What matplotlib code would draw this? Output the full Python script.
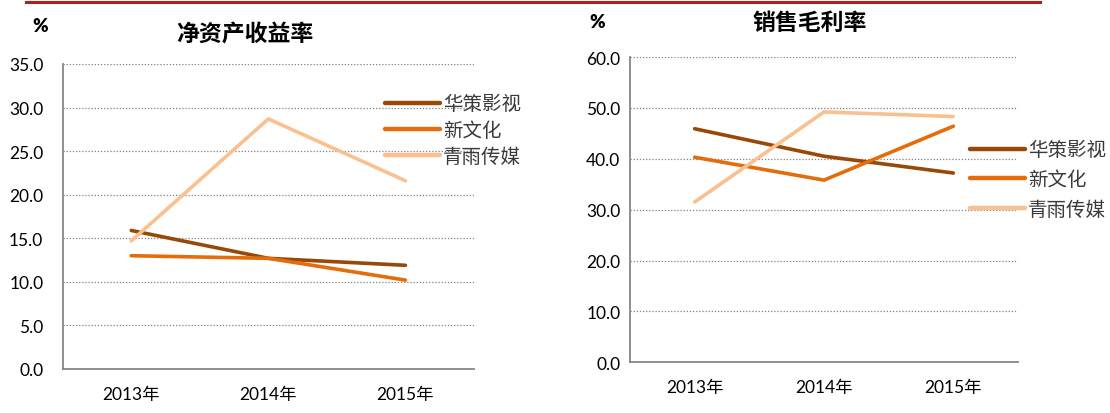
import matplotlib
matplotlib.use("Agg")

import matplotlib.pyplot as plt
from matplotlib.lines import Line2D

plt.rcParams["font.family"] = ["Lato", "Noto Sans CJK SC", "DejaVu Sans"]

years = ["2013年", "2014年", "2015年"]
companies = ["华策影视", "新文化", "青雨传媒"]
colors = ["#984807", "#E46C0A", "#FAC090"]

roe_huace = [15.9, 12.7, 11.9]
roe_xinwenhua = [13.0, 12.7, 10.2]
roe_qingyu = [14.7, 28.7, 21.6]

gm_huace = [45.9, 40.5, 37.2]
gm_xinwenhua = [40.3, 35.8, 46.4]
gm_qingyu = [31.5, 49.2, 48.3]

W, H = 1110, 414
fig = plt.figure(figsize=(W / 100, H / 100), dpi=100)


def px(x, y):
    return x / W, 1 - y / H


def setup_axes(ax, ymax, step, ypad):
    ax.set_xlim(-0.5, 2.5)
    ax.set_ylim(0, ymax)
    ticks = [i * step for i in range(int(ymax / step) + 1)]
    ax.set_yticks(ticks)
    ax.set_yticklabels([f"{t:.1f}" for t in ticks])
    ax.set_xticks(range(len(years)))
    ax.set_xticklabels(years)
    for t in ticks[1:]:
        ax.axhline(t, color="#808080", linestyle=(0, (1, 1.5)), linewidth=0.9, zorder=0)
    for side in ["top", "right"]:
        ax.spines[side].set_visible(False)
    for side in ["left", "bottom"]:
        ax.spines[side].set_color("#868686")
        ax.spines[side].set_linewidth(1.3)
    ax.tick_params(axis="both", length=0, labelsize=12.5, colors="#000000")
    ax.tick_params(axis="y", pad=ypad)
    ax.tick_params(axis="x", pad=12)


def add_legend(ax, anchor, spacing):
    leg = ax.legend(loc="upper left", bbox_to_anchor=px(*anchor), bbox_transform=fig.transFigure,
                    frameon=False, fontsize=14, handlelength=2.85, handletextpad=0.15,
                    labelspacing=spacing, borderaxespad=0, borderpad=0)
    for line in leg.get_lines():
        line.set_linewidth(3.2)
    for text in leg.get_texts():
        text.set_color("#3a3a3a")


# left chart: ROE
ax1 = fig.add_axes([62.7 / W, 1 - 370 / H, 411.3 / W, 305 / H])
setup_axes(ax1, 35, 5, 14)
for vals, name, c in zip([roe_huace, roe_xinwenhua, roe_qingyu], companies, colors):
    ax1.plot(range(len(years)), vals, color=c, linewidth=2.6, label=name, solid_capstyle="round")
add_legend(ax1, (385, 95), 0.4)

# right chart: gross margin
ax2 = fig.add_axes([630 / W, 1 - 363.3 / H, 388 / W, 305.3 / H])
setup_axes(ax2, 60, 10, 7)
for vals, name, c in zip([gm_huace, gm_xinwenhua, gm_qingyu], companies, colors):
    ax2.plot(range(len(years)), vals, color=c, linewidth=2.6, label=name, solid_capstyle="round")
add_legend(ax2, (970, 141), 0.58)

# titles and unit labels
fig.text(*px(245, 35), "净资产收益率", ha="center", va="center", fontsize=16.5, fontweight="bold")
fig.text(*px(810, 23), "销售毛利率", ha="center", va="center", fontsize=16.5, fontweight="bold")
fig.text(*px(40, 27), "%", ha="center", va="center", fontsize=13.5, fontweight="heavy")
fig.text(*px(597, 23), "%", ha="center", va="center", fontsize=13.5, fontweight="heavy")

# red rule at the top
fig.add_artist(Line2D([26 / W, 1040 / W], [1 - 3 / H, 1 - 3 / H], color="#B01E1E",
                      linewidth=2.2, transform=fig.transFigure))

fig.savefig("out.png", dpi=100)
